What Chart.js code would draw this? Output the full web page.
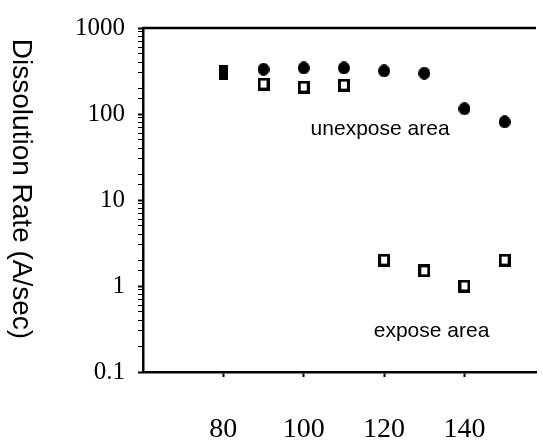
<!DOCTYPE html>
<html>
<head>
<meta charset="utf-8">
<script src="https://cdn.jsdelivr.net/npm/chart.js@4"></script>
<style>
  html, body { margin: 0; padding: 0; background: #fff; }
  #wrap { width: 543px; height: 442px; }
</style>
</head>
<body>
<div id="wrap"><canvas id="myChart" width="543" height="442"></canvas></div>
<script>
// temperatures (x) and dissolution rates (A/sec)
const temps = [80, 90, 100, 110, 120, 130, 140, 150];
const unexposed = [302, 331, 343, 343, 317, 298, 115, 81];
const exposed = [null, 223, 206, 217, 2.0, 1.5, 1.0, 2.0];
const xTicks = [80, 100, 120, 140];
const yTicks = [0.1, 1, 10, 100, 1000];

const serif = '"Liberation Serif", "Times New Roman", serif';
const sans = '"Liberation Sans", Arial, sans-serif';

function marker(w, h, draw) {
    const c = document.createElement('canvas');
    c.width = w; c.height = h;
    draw(c.getContext('2d'), w, h);
    return c;
}
const dot = marker(12, 13, (g, w, h) => {
    g.fillStyle = '#000';
    g.beginPath();
    g.ellipse(w / 2, h / 2, w / 2, h / 2, 0, 0, Math.PI * 2);
    g.fill();
});
const block = marker(9, 15, (g, w, h) => {
    g.fillStyle = '#000';
    g.fillRect(0, 0, w, h);
});
const box = marker(12, 13, (g, w, h) => {
    g.fillStyle = '#000';
    g.fillRect(0, 0, w, h);
    g.clearRect(3, 3, w - 6, h - 6);
});

const isDecade = v => Math.abs(Math.log10(v) - Math.round(Math.log10(v))) < 1e-9;

const extras = {
    id: 'extras',
    afterDraw(chart) {
        const { ctx, chartArea, scales } = chart;
        ctx.save();
        // top frame line
        ctx.strokeStyle = '#000';
        ctx.lineWidth = 2.5;
        ctx.beginPath();
        ctx.moveTo(chartArea.left, chartArea.top);
        ctx.lineTo(chartArea.right, chartArea.top);
        ctx.stroke();
        // axis title, reading top to bottom
        ctx.fillStyle = '#000';
        ctx.font = '28px ' + sans;
        ctx.textAlign = 'center';
        ctx.textBaseline = 'middle';
        ctx.translate(21, 189);
        ctx.rotate(Math.PI / 2);
        ctx.fillText('Dissolution Rate (A/sec)', 0, 0);
        ctx.restore();
        // area labels
        ctx.save();
        ctx.fillStyle = '#000';
        ctx.font = '21px ' + sans;
        ctx.textAlign = 'center';
        ctx.textBaseline = 'middle';
        ctx.fillText('unexpose area', scales.x.getPixelForValue(119), scales.y.getPixelForValue(66));
        ctx.fillText('expose area', scales.x.getPixelForValue(131.8), scales.y.getPixelForValue(0.3));
        ctx.restore();
    }
};

const ctx = document.getElementById('myChart').getContext('2d');

let chart = new Chart(ctx, {
    type: 'scatter',
    data: {
        labels: temps,
        datasets: [{
            label: 'unexpose area',
            data: temps.map((t, i) => ({ x: t, y: unexposed[i] })),
            pointStyle: temps.map((t, i) => i === 0 ? block : dot),
            pointRadius: 6,
        }, {
            label: 'expose area',
            data: temps.map((t, i) => ({ x: t, y: exposed[i] })),
            pointStyle: box,
            pointRadius: 6,
        }]
    },
    options: {
        responsive: false,
        animation: false,
        clip: false,
        layout: { padding: { top: 22, left: 0, right: 0, bottom: 0 } },
        plugins: {
            legend: { display: false },
            tooltip: { enabled: false }
        },
        scales: {
            x: {
                type: 'linear',
                min: 60,
                max: 157.8,
                afterBuildTicks: s => { s.ticks = xTicks.map(v => ({ value: v })); },
                afterFit: s => { s.height = 70; },
                border: { color: '#000', width: 2.5 },
                grid: { drawOnChartArea: false, tickLength: 5, tickColor: '#000', tickWidth: 2 },
                ticks: {
                    color: '#000',
                    padding: 36,
                    maxRotation: 0,
                    font: { family: serif, size: 28 }
                }
            },
            y: {
                type: 'logarithmic',
                min: 0.1,
                max: 1000,
                afterFit: s => { s.width = 143; },
                border: { color: '#000', width: 2.5 },
                grid: {
                    drawOnChartArea: false,
                    tickLength: 5,
                    tickColor: '#000',
                    tickWidth: c => (c.tick && isDecade(c.tick.value)) ? 2 : 1
                },
                ticks: {
                    color: '#000',
                    padding: 13,
                    autoSkip: false,
                    font: { family: serif, size: 25 },
                    callback: v => isDecade(v) ? String(yTicks.find(t => Math.abs(t - v) < 1e-9)) : ''
                }
            }
        }
    },
    plugins: [extras]
});
</script>
</body>
</html>
